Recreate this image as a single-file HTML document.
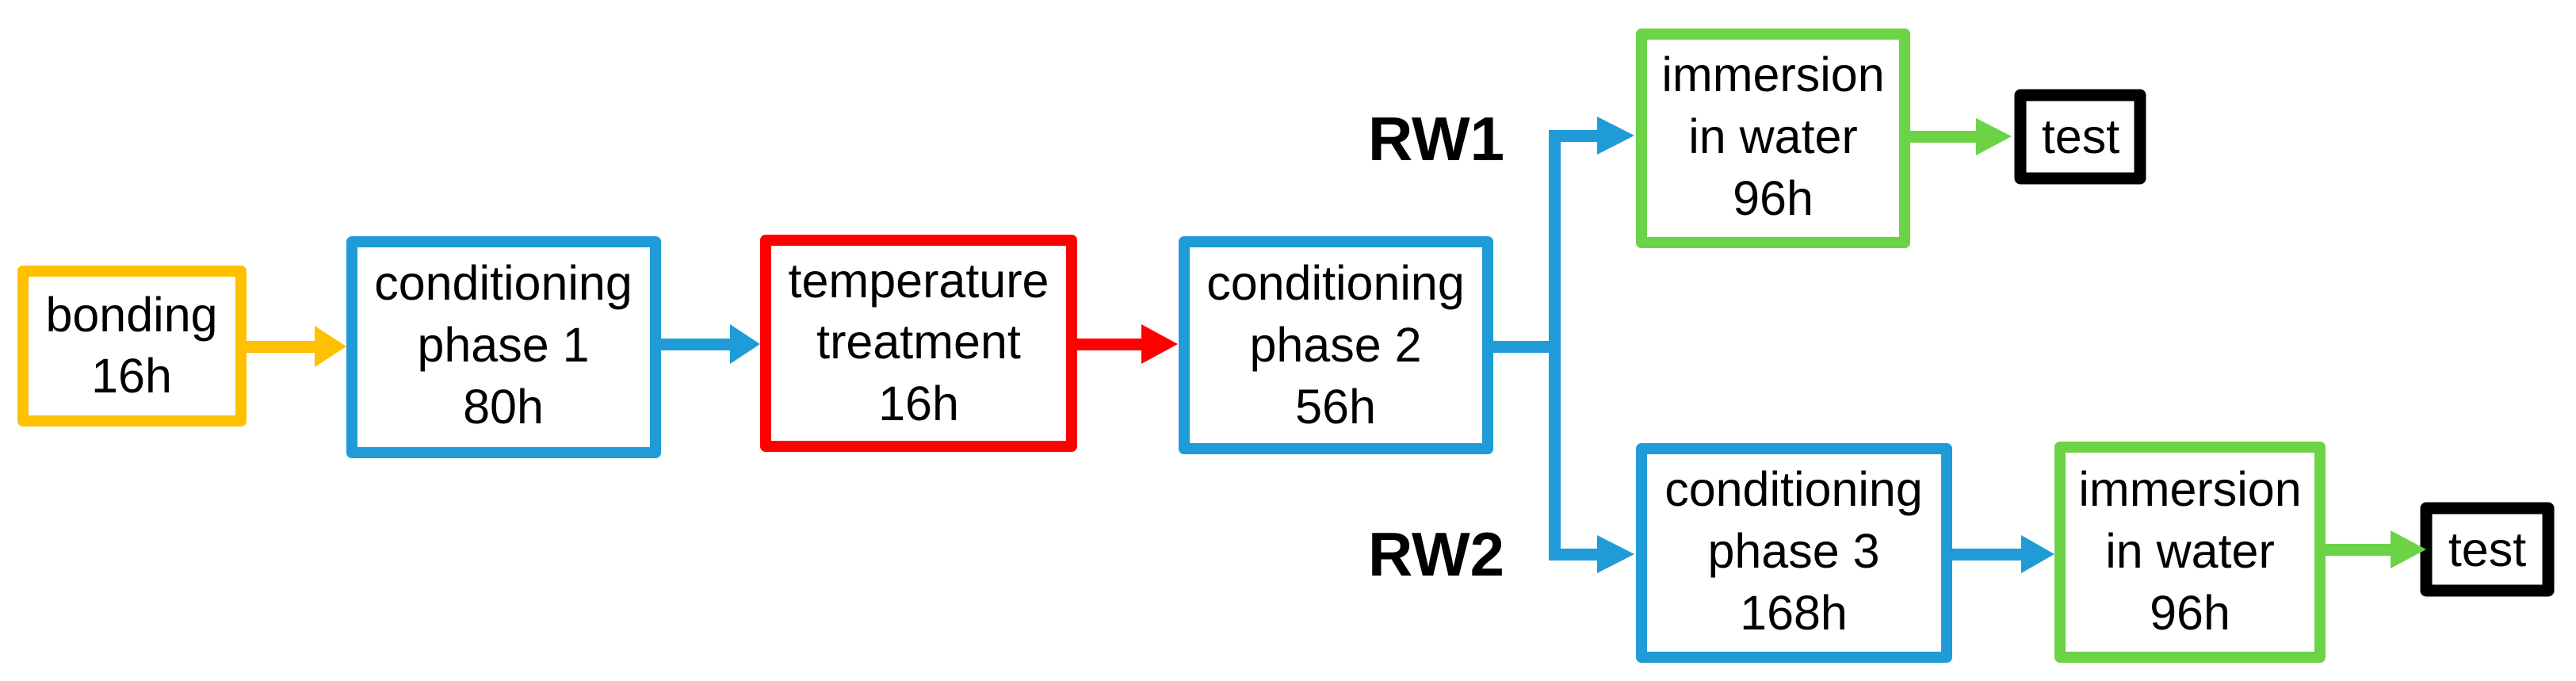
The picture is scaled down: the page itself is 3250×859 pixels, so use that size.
<!DOCTYPE html>
<html><head><meta charset="utf-8"><style>
html,body{margin:0;padding:0;background:#fff;}
svg{display:block;}
text{font-family:"Liberation Sans",sans-serif;font-size:61px;fill:#000;text-anchor:middle;}
.b{font-weight:bold;font-size:78px;}
</style></head><body>
<svg width="3250" height="859" viewBox="0 0 3250 859" xmlns="http://www.w3.org/2000/svg">
<g fill="none" stroke-width="14" stroke-linejoin="round">
<rect x="29" y="342" width="275" height="189" stroke="#FFC000"/>
<rect x="444" y="305" width="383" height="266" stroke="#1F9BD7"/>
<rect x="966" y="303" width="386" height="260" stroke="#FF0000"/>
<rect x="1494" y="305" width="383" height="261" stroke="#1F9BD7"/>
<rect x="2071" y="43" width="332" height="263" stroke="#6CD246"/>
<rect x="2549" y="120" width="151" height="105" stroke="#000" stroke-width="15"/>
<rect x="2071" y="566" width="385" height="263" stroke="#1F9BD7"/>
<rect x="2599" y="564" width="328" height="265" stroke="#6CD246"/>
<rect x="3061" y="641" width="154" height="104" stroke="#000" stroke-width="15"/>
</g>
<g>
<rect x="311" y="430" width="90" height="15" fill="#FFC000"/>
<polygon points="397,411 437,437 397,463" fill="#FFC000"/>
<rect x="834" y="427" width="90" height="15" fill="#1F9BD7"/>
<polygon points="921,409 959,434 921,459" fill="#1F9BD7"/>
<rect x="1359" y="427" width="85" height="15" fill="#FF0000"/>
<polygon points="1440,409 1486,434 1440,459" fill="#FF0000"/>
<rect x="1884" y="430" width="84" height="15" fill="#1F9BD7"/>
<rect x="1954" y="164" width="15" height="543" fill="#1F9BD7"/>
<rect x="1954" y="164" width="66" height="15" fill="#1F9BD7"/>
<polygon points="2015,147 2062,171 2015,195" fill="#1F9BD7"/>
<rect x="1954" y="692" width="66" height="15" fill="#1F9BD7"/>
<polygon points="2015,675 2062,699 2015,723" fill="#1F9BD7"/>
<rect x="2463" y="692" width="92" height="15" fill="#1F9BD7"/>
<polygon points="2550,675 2592,699 2550,723" fill="#1F9BD7"/>
<rect x="2410" y="165" width="88" height="15" fill="#6CD246"/>
<rect x="2934" y="686" width="90" height="15" fill="#6CD246"/>
<polygon points="2493,149 2538,172 2493,196" fill="#6CD246"/>
<polygon points="3016,669 3061,693 3016,717" fill="#6CD246"/>
</g>
<text x="166" y="418">bonding</text>
<text x="166" y="495">16h</text>
<text x="635" y="378">conditioning</text>
<text x="635" y="456">phase 1</text>
<text x="635" y="534">80h</text>
<text x="1159" y="375">temperature</text>
<text x="1159" y="452">treatment</text>
<text x="1159" y="530">16h</text>
<text x="1685" y="378">conditioning</text>
<text x="1685" y="456">phase 2</text>
<text x="1685" y="534">56h</text>
<text x="2237" y="115">immersion</text>
<text x="2237" y="193">in water</text>
<text x="2237" y="271">96h</text>
<text x="2625" y="193">test</text>
<text x="2263" y="638">conditioning</text>
<text x="2263" y="716">phase 3</text>
<text x="2263" y="794">168h</text>
<text x="2763" y="638">immersion</text>
<text x="2763" y="716">in water</text>
<text x="2763" y="794">96h</text>
<text x="3138" y="714">test</text>
<text class="b" x="1812" y="202">RW1</text>
<text class="b" x="1812" y="726">RW2</text>
</svg>
</body></html>
